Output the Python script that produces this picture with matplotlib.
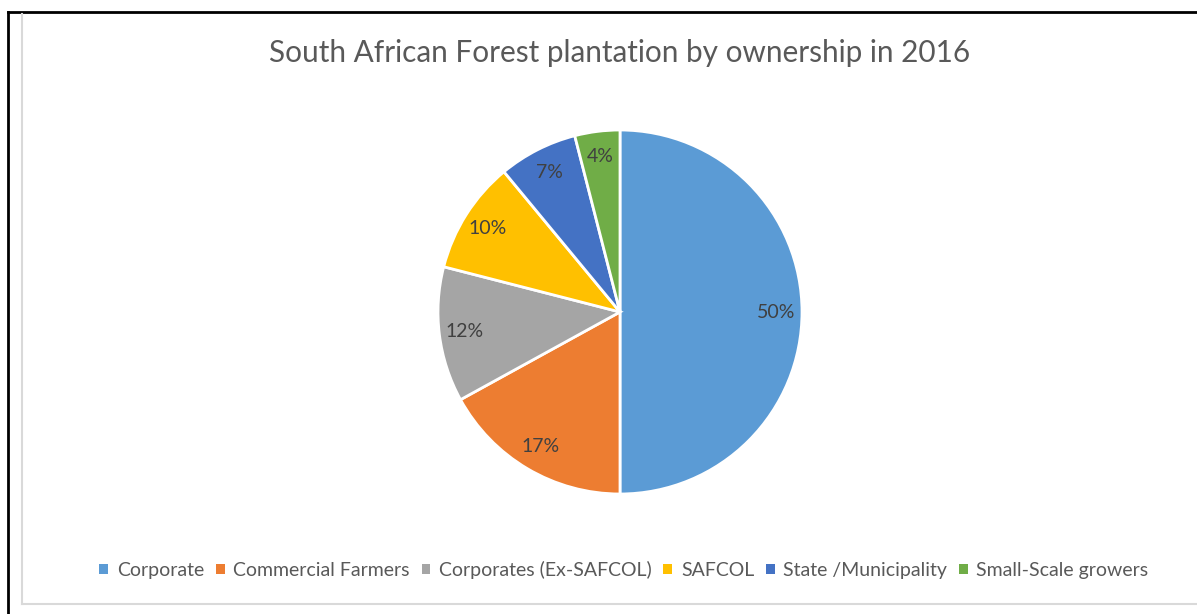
import matplotlib.pyplot as plt
from matplotlib.lines import Line2D

labels = ['Corporate', 'Commercial Farmers', 'Corporates (Ex-SAFCOL)',
          'SAFCOL', 'State /Municipality', 'Small-Scale growers']
shares = [50, 17, 12, 10, 7, 4]
colors = ['#5B9BD5', '#ED7D31', '#A5A5A5', '#FFC000', '#4472C4', '#70AD47']

plt.rcParams['font.family'] = ['Lato', 'DejaVu Sans']

W, H = 1197, 614
fig = plt.figure(figsize=(W / 100, H / 100), dpi=100)

# frame lines (screenshot borders)
fig.add_artist(Line2D([8 / W, 1], [1 - 12 / H, 1 - 12 / H], color='black', lw=2))
fig.add_artist(Line2D([8 / W, 8 / W], [0, 1 - 12 / H], color='black', lw=2))
fig.add_artist(Line2D([22 / W, 22 / W], [1 - 604 / H, 1 - 14 / H], color='#D9D9D9', lw=1.5))
fig.add_artist(Line2D([22 / W, 1], [1 - 604 / H, 1 - 604 / H], color='#D9D9D9', lw=1.5))

# pie axes: center (620, 312), radius 182 px
r = 182
ax = fig.add_axes([(620 - r) / W, 1 - (312 + r) / H, 2 * r / W, 2 * r / H])
wedges, texts, autotexts = ax.pie(
    shares, colors=colors, startangle=90, counterclock=False,
    autopct='%1.0f%%', pctdistance=0.86,
    wedgeprops=dict(edgecolor='white', linewidth=2),
    textprops=dict(color='#404040', fontsize=14))
ax.set_xlim(-1, 1)
ax.set_ylim(-1, 1)
ax.set_aspect('equal')

fig.text(620 / W, 1 - 53 / H, 'South African Forest plantation by ownership in 2016',
         ha='center', va='center', fontsize=21.4, color='#595959')

leg = fig.legend(wedges, labels, loc='center', bbox_to_anchor=(624 / W, 1 - 570 / H),
                 ncol=6, frameon=False, fontsize=14, handlelength=0.45, handleheight=0.45,
                 handletextpad=0.45, columnspacing=0.6, labelcolor='#595959')
for h in leg.legend_handles:
    h.set_edgecolor('none')

fig.savefig('out.png', dpi=100)
